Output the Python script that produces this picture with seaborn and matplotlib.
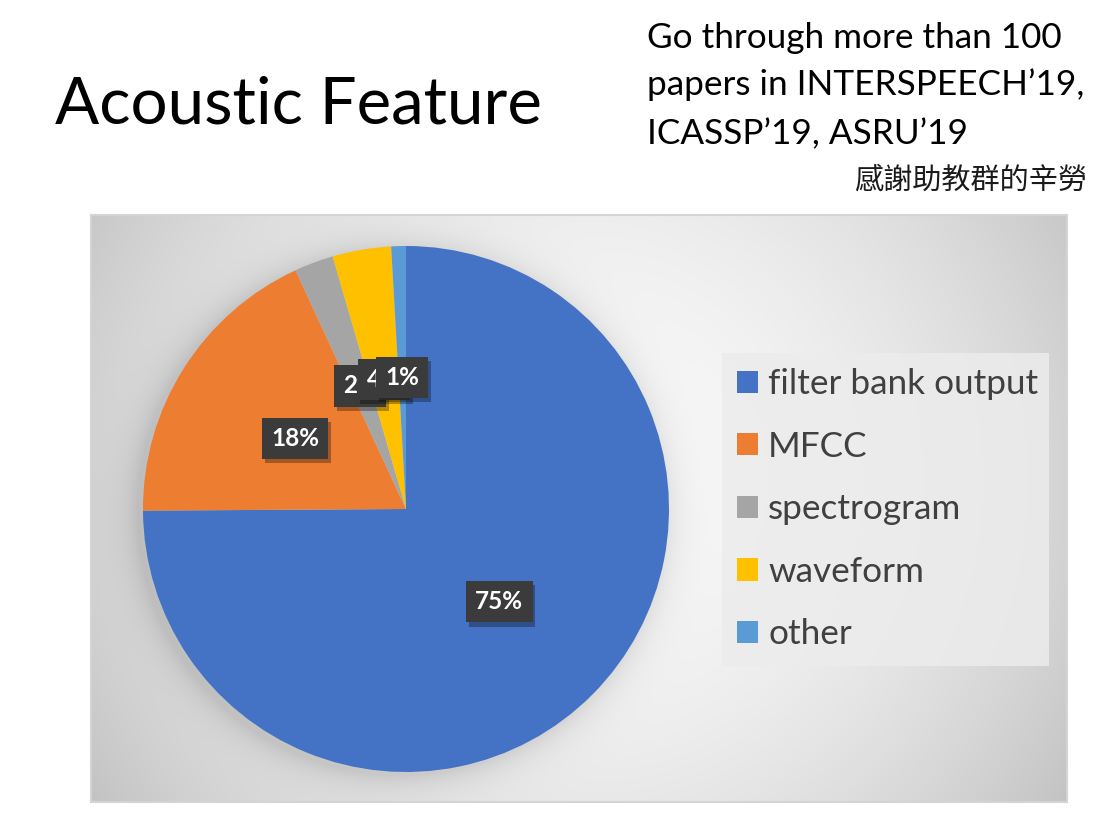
import numpy as np
import matplotlib
matplotlib.use("Agg")
import matplotlib.pyplot as plt
import matplotlib.patheffects as pe
from matplotlib.patches import Patch
import seaborn as sns

# data
features = ["filter bank output", "MFCC", "spectrogram", "waveform", "other"]
shares = [74.9, 18.2, 2.4, 3.6, 0.9]
colors = ["#4472C4", "#ED7D31", "#A5A5A5", "#FFC000", "#5B9BD5"]

title = "Acoustic Feature"
note_lines = ["Go through more than 100", "papers in INTERSPEECH\u201919,", "ICASSP\u201919, ASRU\u201919"]
thanks = "感謝助教群的辛勞"

sns.set_theme(style="white")
plt.rcParams["font.family"] = ["Lato", "DejaVu Sans"]

W, H = 1093, 833
fig = plt.figure(figsize=(W / 100, H / 100), dpi=100)
fig.patch.set_facecolor("white")
renderer = fig.canvas.get_renderer()


def px_rect(x0, y0, x1, y1):
    return [x0 / W, 1 - y1 / H, (x1 - x0) / W, (y1 - y0) / H]


def fit(t, width):
    w = t.get_window_extent(renderer).width
    t.set_fontsize(t.get_fontsize() * width / w)


# chart area with radial grey gradient and a soft shadow round the pie
box = (91, 215, 1067, 802)
pie_c, pie_r = (406, 509), 263
bg = fig.add_axes(px_rect(*box))
bw, bh = box[2] - box[0], box[3] - box[1]
yy, xx = np.mgrid[0:bh, 0:bw]
d = np.hypot(xx - bw * 0.5, yy - bh * 0.45) / np.hypot(bw / 2, bh / 2)
shade = 0.975 - 0.2 * d ** 2
ds = np.hypot(xx - (pie_c[0] - box[0] - 6), yy - (pie_c[1] - box[1] + 3)) - pie_r
shade -= 0.11 * np.exp(-np.clip(ds, 0, None) / 16)
bg.imshow(np.dstack([shade.clip(0, 1)] * 3), aspect="auto", interpolation="bilinear")
bg.set_xticks([])
bg.set_yticks([])
for s in bg.spines.values():
    s.set_color("#d4d4d4")
    s.set_linewidth(1.5)

# pie
ax = fig.add_axes(px_rect(pie_c[0] - pie_r, pie_c[1] - pie_r, pie_c[0] + pie_r, pie_c[1] + pie_r))
wedges, texts, autotexts = ax.pie(shares, colors=colors, startangle=90, counterclock=False,
                                  autopct=lambda p: f"{p:.0f}%", pctdistance=0.5,
                                  wedgeprops=dict(linewidth=0))
ax.set_xlim(-1, 1)
ax.set_ylim(-1, 1)
ax.axis("off")
for t in autotexts:
    t.set(color="white", fontweight="bold", fontsize=17.5)
    t.set_bbox(dict(boxstyle="square,pad=0.38", fc="#3b3b3b", ec="none"))
    t.get_bbox_patch().set_path_effects([pe.withSimplePatchShadow(offset=(2, -3), shadow_rgbFace="black", alpha=0.3)])

# legend
handles = [Patch(facecolor=c, edgecolor="none") for c in colors]
leg = fig.legend(handles, features, loc="upper left",
                 bbox_to_anchor=(722 / W, 1 - 353 / H, 327 / W, 0), mode="expand",
                 frameon=True, fancybox=False, fontsize=25.3, labelcolor="#404040",
                 handlelength=0.6, handleheight=0.6, handletextpad=0.28,
                 labelspacing=0.87, borderpad=0.43, borderaxespad=0)
leg.get_frame().set_facecolor("#ececec")
leg.get_frame().set_edgecolor("none")
leg.get_frame().set_alpha(0.85)

# header texts
t_title = fig.text(55 / W, 1 - 123 / H, title, fontsize=50, va="baseline", ha="left", color="black")
fit(t_title, 486)
notes = []
for line, base in zip(note_lines, [48, 95, 144]):
    notes.append(fig.text(647 / W, 1 - base / H, line, fontsize=24, va="baseline", ha="left", color="black"))
fit(notes[1], 436)
for n in notes:
    n.set_fontsize(notes[1].get_fontsize())
fig.text(1087 / W, 1 - 189 / H, thanks, fontsize=21, va="baseline", ha="right", color="#1a1a1a",
         family=["Noto Sans CJK TC", "DejaVu Sans"])

fig.savefig("out.png", dpi=100)
